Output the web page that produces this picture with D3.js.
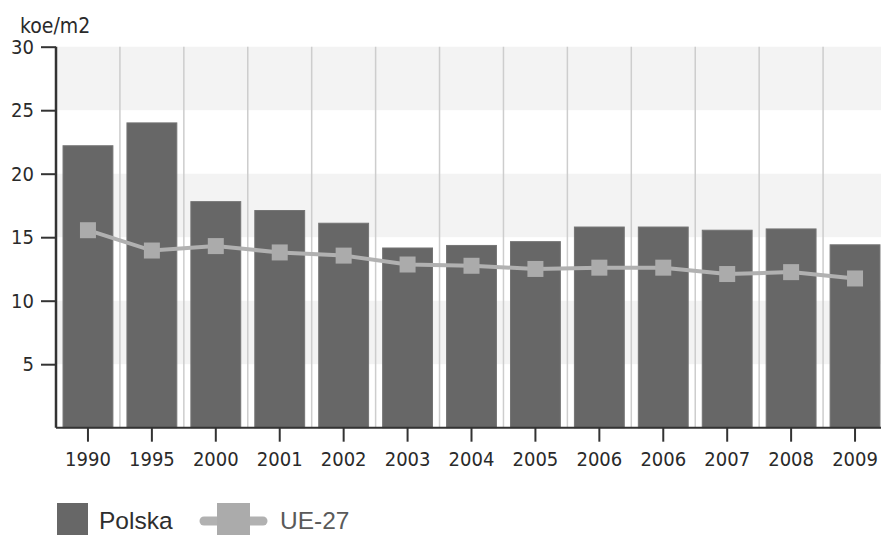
<!DOCTYPE html>
<html>
<head>
<meta charset="utf-8">
<script src="https://cdn.jsdelivr.net/npm/d3@7"></script>
<style>
  html, body { margin: 0; padding: 0; background: #fff; }
  svg { display: block; }
</style>
</head>
<body>
<svg id="chart" width="881" height="535"></svg>
<script>
// Energy intensity per square metre (koe/m2), Poland vs EU-27
const years = ["1990", "1995", "2000", "2001", "2002", "2003", "2004", "2005", "2006", "2006", "2007", "2008", "2009"];
const polska = [22.2, 24.0, 17.8, 17.1, 16.1, 14.15, 14.35, 14.65, 15.8, 15.8, 15.55, 15.65, 14.4];
const ue27 = [15.55, 13.95, 14.3, 13.8, 13.55, 12.85, 12.75, 12.5, 12.6, 12.6, 12.1, 12.25, 11.75];
const yTicks = [5, 10, 15, 20, 25, 30];
const bands = [[25, 30], [15, 20], [5, 10]];
const unitLabel = "koe/m2";
const seriesNames = ["Polska", "UE-27"];

const svg = d3.select("#chart");
const plotLeft = 56, plotRight = 887, plotTop = 46.7, plotBottom = 427.7;

const idx = years.map((d, i) => i);
const x = d3.scaleBand().domain(idx).range([plotLeft, plotRight]).paddingInner(0.22).paddingOuter(0.11);
const y = d3.scaleLinear().domain([0, 30]).range([plotBottom, plotTop]);

const tickFont = "'DejaVu Sans Condensed', 'DejaVu Sans', Verdana, sans-serif";
const textColor = "#2a2a2a";

// alternating horizontal bands
svg.append("g").selectAll("rect").data(bands).join("rect")
  .attr("x", plotLeft).attr("width", plotRight - plotLeft)
  .attr("y", d => y(d[1])).attr("height", d => y(d[0]) - y(d[1]))
  .attr("fill", "#f3f3f3");

// vertical separators between categories
const step = x.step();
svg.append("g").selectAll("line").data(idx.slice(1)).join("line")
  .attr("x1", d => x(d) - x.paddingInner() * step / 2)
  .attr("x2", d => x(d) - x.paddingInner() * step / 2)
  .attr("y1", plotTop).attr("y2", plotBottom)
  .attr("stroke", "#cdcdcd").attr("stroke-width", 1.5);

// bars
svg.append("g").selectAll("rect").data(polska).join("rect")
  .attr("x", (d, i) => x(i)).attr("width", x.bandwidth())
  .attr("y", d => y(d)).attr("height", d => plotBottom - y(d))
  .attr("fill", "#676767").attr("stroke", "#747474").attr("stroke-width", 1);

// EU-27 line with square markers
const line = d3.line().x((d, i) => x(i) + x.bandwidth() / 2).y(d => y(d));
svg.append("path").datum(ue27).attr("d", line)
  .attr("fill", "none").attr("stroke", "#b1b1b1").attr("stroke-width", 4);
svg.append("g").selectAll("rect").data(ue27).join("rect")
  .attr("x", (d, i) => x(i) + x.bandwidth() / 2 - 8).attr("y", d => y(d) - 8)
  .attr("width", 16).attr("height", 16).attr("fill", "#ababab");

// y axis
const yAxis = svg.append("g").attr("transform", `translate(${plotLeft},0)`)
  .call(d3.axisLeft(y).tickValues(yTicks).tickSize(15).tickPadding(7));
yAxis.select(".domain").attr("d", `M0,${plotTop}V${plotBottom}`).attr("stroke", "#333").attr("stroke-width", 2.5);
yAxis.selectAll(".tick line").attr("stroke", "#333").attr("stroke-width", 2);
yAxis.selectAll(".tick text").attr("font-family", tickFont).attr("font-size", 20).attr("fill", textColor);

// x axis
const xAxis = svg.append("g").attr("transform", `translate(0,${plotBottom})`)
  .call(d3.axisBottom(x).tickFormat(i => years[i]).tickSize(14).tickPadding(10));
xAxis.select(".domain").attr("d", `M${plotLeft},0H${plotRight}`).attr("stroke", "#333").attr("stroke-width", 2);
xAxis.selectAll(".tick line").attr("stroke", "#333").attr("stroke-width", 2);
xAxis.selectAll(".tick text").attr("font-family", tickFont).attr("font-size", 20).attr("fill", textColor);

// unit label
svg.append("text").attr("x", 20).attr("y", 33)
  .attr("font-family", tickFont).attr("font-size", 21).attr("fill", textColor)
  .text(unitLabel);

// legend
const lg = svg.append("g");
lg.append("rect").attr("x", 57).attr("y", 503).attr("width", 31).attr("height", 40).attr("fill", "#676767");
lg.append("text").attr("x", 99).attr("y", 529)
  .attr("font-family", "Liberation Sans, Arial, sans-serif").attr("font-size", 24.5).attr("fill", "#2e2e2e")
  .text(seriesNames[0]);
lg.append("line").attr("x1", 204).attr("x2", 263).attr("y1", 521).attr("y2", 521)
  .attr("stroke", "#b1b1b1").attr("stroke-width", 9).attr("stroke-linecap", "round");
lg.append("rect").attr("x", 217).attr("y", 503).attr("width", 33).attr("height", 40).attr("fill", "#ababab");
lg.append("text").attr("x", 280).attr("y", 529)
  .attr("font-family", "Liberation Sans, Arial, sans-serif").attr("font-size", 24.5).attr("fill", "#5a5a5a")
  .text(seriesNames[1]);
</script>
</body>
</html>
